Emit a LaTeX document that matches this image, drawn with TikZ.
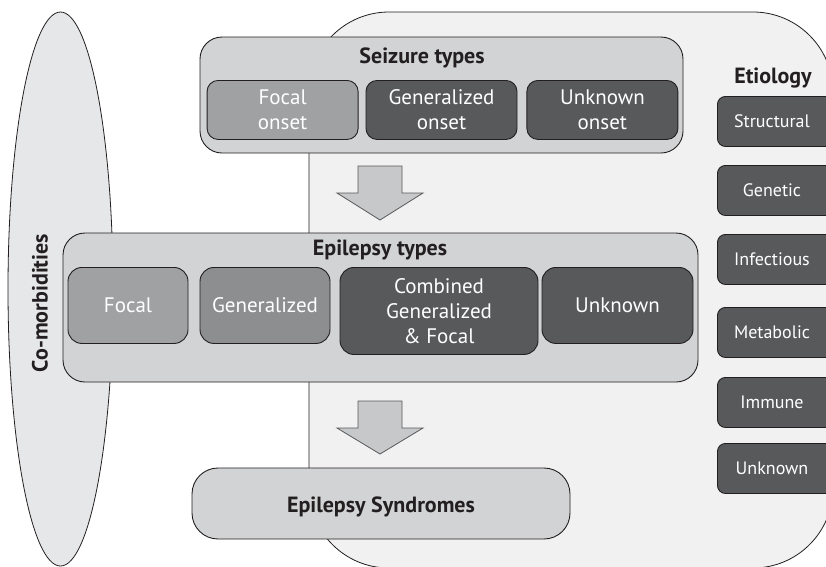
\documentclass[tikz,border=0pt]{standalone}
\usepackage{fontspec}
\setmainfont{PT Sans}
\usetikzlibrary{positioning}

\definecolor{regiongray}{HTML}{F1F1F2}
\definecolor{ellipsegray}{HTML}{E6E7E8}
\definecolor{boxgray}{HTML}{D1D3D4}
\definecolor{lightinner}{HTML}{A0A1A3}
\definecolor{midinner}{HTML}{8D8E90}
\definecolor{darkinner}{HTML}{58595B}
\definecolor{arrowgray}{HTML}{C7C8CA}
\definecolor{inkblack}{HTML}{231F20}

\tikzset{
  outerbox/.style={draw=inkblack, fill=boxgray, line width=0.9pt, rounded corners=22pt},
  innerbox/.style={draw=inkblack, line width=0.9pt, rounded corners=11pt, text=white,
    align=center, inner sep=0pt, anchor=north, font=\fontsize{21}{25}\selectfont},
  titletext/.style={text=inkblack, anchor=base, inner sep=0pt, font=\fontsize{22}{26}\selectfont\bfseries},
  etiobox/.style={draw=inkblack, fill=darkinner, line width=0.9pt, rounded corners=8pt,
    inner sep=0pt, minimum width=125pt, minimum height=50pt, anchor=north west},
  etiotext/.style={text=white, inner sep=0pt, font=\fontsize{18}{22}\selectfont},
  blockarrow/.style={draw=darkinner, fill=arrowgray, line width=0.8pt, line join=miter}
}

\begin{document}
\begin{tikzpicture}[x=1pt, y=-1pt]

\useasboundingbox (0,0) rectangle (826,566);
\clip (0,0) rectangle (826,566);

% Etiologie (Hintergrund)
\draw[fill=regiongray, draw=inkblack, line width=0.8pt, rounded corners=80pt] (309,12) rectangle (833,568);

% Komorbiditaeten
\draw[fill=ellipsegray, draw=inkblack, line width=0.8pt] (60.5,289) ellipse [x radius=52.5, y radius=277];
\node[titletext, anchor=center, rotate=90] (comorb) at (40,303) {Co-morbidities};

% Anfallstypen
\node[outerbox, minimum width=483pt, minimum height=116pt] (seizure) at (441.5,95) {};
\node[titletext] (seizuretitle) at (422,63) {Seizure types};
\node[innerbox, fill=darkinner, minimum width=151pt, minimum height=59pt] (genonset) at (441.5,80) {Generalized\\onset};
\node[innerbox, fill=lightinner, minimum width=151pt, minimum height=59pt, left=7pt of genonset] (focalonset) {Focal\\onset};
\node[innerbox, fill=darkinner, minimum width=151pt, minimum height=59pt, right=9pt of genonset] (unknownonset) {Unknown\\onset};

% Pfeile
\foreach \ytop/\ymid/\ytip in {166/193/220, 401/428/454}
	\draw[blockarrow] (358,\ytop) -- (402,\ytop) -- (402,\ymid) -- (423,\ymid) -- (380,\ytip)
		-- (337,\ymid) -- (358,\ymid) -- cycle;

% Epilepsietypen
\node[outerbox, minimum width=635pt, minimum height=149pt] (epilepsy) at (380.5,307.5) {};
\node[titletext] (epilepsytitle) at (380,255) {Epilepsy types};
\node[innerbox, fill=lightinner, minimum width=120pt, minimum height=76pt, rounded corners=14pt] (focal) at (128,267) {Focal};
\node[innerbox, fill=midinner, minimum width=130pt, minimum height=76pt, rounded corners=14pt] (generalized) at (265,267) {Generalized};
\node[innerbox, fill=darkinner, minimum width=198pt, minimum height=87pt, rounded corners=14pt] (combined) at (439,267) {Combined\\Generalized\\\& Focal};
\node[innerbox, fill=darkinner, minimum width=151pt, minimum height=76pt, rounded corners=14pt] (unknown) at (617.5,267) {Unknown};

% Syndrome
\node[outerbox, minimum width=378pt, minimum height=71pt, rounded corners=26pt] (syndromes) at (381,503.5) {};
\node[titletext] (syndromestitle) at (381,512) {Epilepsy Syndromes};

% Etiologie
\node[titletext] (etiotitle) at (773,83) {Etiology};
\foreach \ytop/\name [count=\i] in {96/Structural, 165/Genetic, 234/Infectious, 307/Metabolic, 377/Immune, 443/Unknown} {
	\node[etiobox] (etio\i) at (717,\ytop) {};
	\node[etiotext] (etiolabel\i) at (772,\ytop+25) {\name};
}

\end{tikzpicture}
\end{document}
